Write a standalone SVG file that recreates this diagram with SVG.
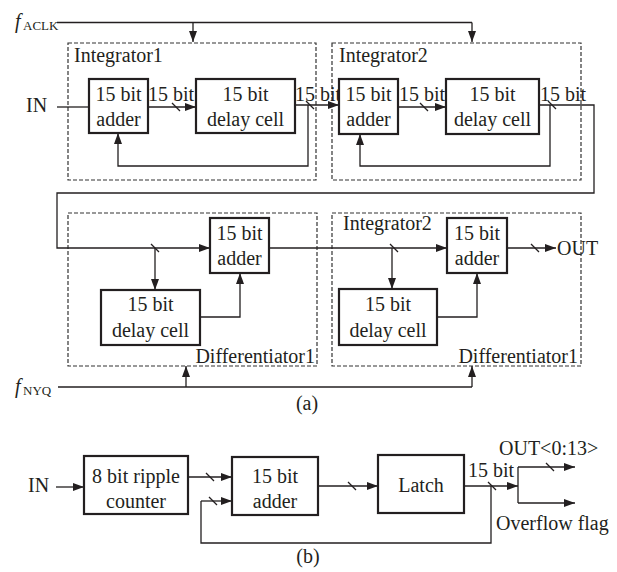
<svg xmlns="http://www.w3.org/2000/svg" width="617" height="572" viewBox="0 0 617 572">
<style>
text{font-family:"Liberation Serif","Times New Roman",serif;font-size:20px;fill:#231f20}
.c{text-anchor:middle}
.e{text-anchor:end}
.sub{font-size:13px}
.it{font-style:italic}
.grp{fill:none;stroke:#333;stroke-width:1.2;stroke-dasharray:4 2}
.box{fill:#fff;stroke:#231f20;stroke-width:2.2}
.w{fill:none;stroke:#231f20;stroke-width:1.3}
.a{marker-end:url(#ah)}
</style>
<defs>
<marker id="ah" markerUnits="userSpaceOnUse" markerWidth="12" markerHeight="10" refX="11" refY="4" orient="auto">
<path d="M0,0 L11,4 L0,8 Z" fill="#231f20"/>
</marker>
</defs>
<rect width="617" height="572" fill="#fff"/>

<!-- group frames -->
<g id="frames">
<rect class="grp" x="68" y="43" width="248" height="137"/>
<rect class="grp" x="332" y="43" width="249" height="137"/>
<rect class="grp" x="68" y="213" width="249" height="153"/>
<rect class="grp" x="332" y="213" width="249" height="153"/>
<text x="74" y="62">Integrator1</text>
<text x="339" y="62">Integrator2</text>
<text x="343" y="230">Integrator2</text>
<text class="e" x="315" y="363">Differentiator1</text>
<text class="e" x="578" y="363">Differentiator1</text>
</g>

<!-- connectors -->
<g id="connectors">
<path class="w" d="M57,22.5 H472"/>
<path class="w a" d="M472,22.5 V42"/>
<path class="w a" d="M193,22.5 V42"/>
<path class="w" d="M57,107 H89"/>
<path class="w a" d="M148,107 H196"/>
<path class="w a" d="M295,105 H339"/>
<path class="w a" d="M308,105 V166 H118 V133"/>
<path class="w a" d="M398,107 H446"/>
<path class="w a" d="M539,105 H594 V193 H57 V248 H210"/>
<path class="w a" d="M550,105 V166 H360 V134"/>
<path class="w a" d="M155,248 V290"/>
<path class="w a" d="M200,317 H240 V273"/>
<path class="w a" d="M269,248 H447"/>
<path class="w a" d="M392,248 V289"/>
<path class="w a" d="M437,317 H477 V273"/>
<path class="w a" d="M507,248 H556"/>
<path class="w" d="M58,387 H472"/>
<path class="w a" d="M186,387 V366"/>
<path class="w a" d="M472,387 V366"/>
<!-- bus slashes (a) -->
<path class="w" d="M172,103 L180,111 M306,101 L314,109 M420,103 L428,111 M548,101 L556,109 M151,244 L159,252 M390,244 L398,252 M531,244 L539,252"/>
<!-- part (b) -->
<path class="w a" d="M56,487 H84"/>
<path class="w a" d="M188,477 H232"/>
<path class="w a" d="M201,501 H232"/>
<path class="w" d="M201,501 V543 H491 V486"/>
<path class="w a" d="M318,486 H378"/>
<path class="w a" d="M464,486 H518"/>
<path class="w" d="M518,467 V503"/>
<path class="w a" d="M518,467 H575"/>
<path class="w a" d="M518,503 H575"/>
<path class="w" d="M206,473 L214,481 M209,497 L217,505 M348,482 L356,490 M488,482 L496,490 M546,463 L554,471"/>
</g>

<!-- labels on wires -->
<g id="labels">
<text x="15" y="28" class="it">f</text><text x="23" y="30" class="sub">ACLK</text>
<text x="15" y="393" class="it">f</text><text x="23" y="395" class="sub">NYQ</text>
<text x="26" y="112">IN</text>
<text class="c" x="171" y="101">15 bit</text>
<text class="c" x="318" y="101">15 bit</text>
<text class="c" x="422" y="101">15 bit</text>
<text class="c" x="563" y="101">15 bit</text>
<text x="557" y="255">OUT</text>
<text class="c" x="307" y="410">(a)</text>
<text x="28" y="492">IN</text>
<text class="c" x="491" y="477">15 bit</text>
<text x="499" y="455">OUT&lt;0:13&gt;</text>
<text x="496" y="530">Overflow flag</text>
<text class="c" x="308" y="563">(b)</text>
</g>

<!-- nodes -->
<g id="int1-adder"><rect class="box" x="89" y="79" width="59" height="54"/><text class="c" x="118.5" y="101">15 bit</text><text class="c" x="118.5" y="126">adder</text></g>
<g id="int1-delay"><rect class="box" x="196" y="79" width="99" height="54"/><text class="c" x="245.5" y="101">15 bit</text><text class="c" x="245.5" y="126">delay cell</text></g>
<g id="int2-adder"><rect class="box" x="339" y="79" width="59" height="55"/><text class="c" x="368.5" y="101">15 bit</text><text class="c" x="368.5" y="126">adder</text></g>
<g id="int2-delay"><rect class="box" x="446" y="79" width="93" height="55"/><text class="c" x="492.5" y="101">15 bit</text><text class="c" x="492.5" y="126">delay cell</text></g>
<g id="diff1-adder"><rect class="box" x="210" y="218" width="59" height="55"/><text class="c" x="239.5" y="240">15 bit</text><text class="c" x="239.5" y="265">adder</text></g>
<g id="diff1-delay"><rect class="box" x="101" y="290" width="99" height="55"/><text class="c" x="150.5" y="311">15 bit</text><text class="c" x="150.5" y="337">delay cell</text></g>
<g id="diff2-adder"><rect class="box" x="447" y="218" width="60" height="55"/><text class="c" x="477" y="240">15 bit</text><text class="c" x="477" y="265">adder</text></g>
<g id="diff2-delay"><rect class="box" x="339" y="289" width="98" height="56"/><text class="c" x="388" y="311">15 bit</text><text class="c" x="388" y="337">delay cell</text></g>
<g id="counter"><rect class="box" x="84" y="456" width="104" height="58"/><text class="c" x="136" y="483">8 bit ripple</text><text class="c" x="136" y="508">counter</text></g>
<g id="b-adder"><rect class="box" x="232" y="457" width="86" height="58"/><text class="c" x="275" y="483">15 bit</text><text class="c" x="275" y="508">adder</text></g>
<g id="latch"><rect class="box" x="378" y="455" width="86" height="58"/><text class="c" x="421" y="492">Latch</text></g>
</svg>
